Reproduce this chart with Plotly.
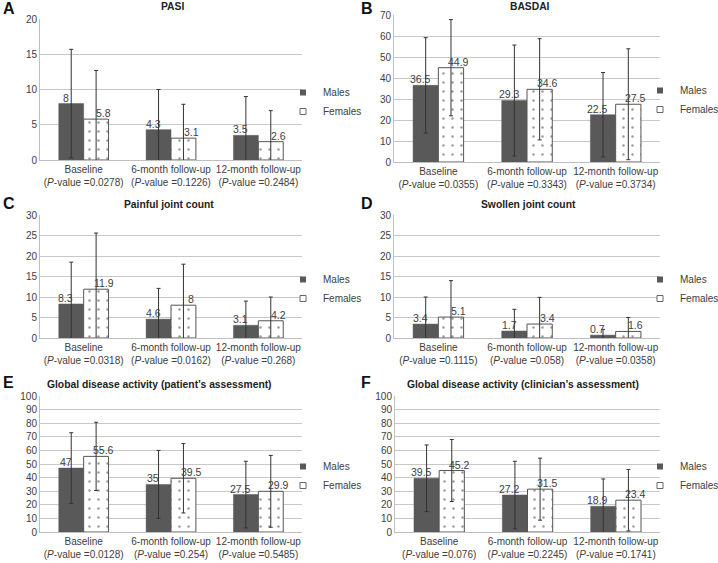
import plotly.graph_objects as go

W, H = 718, 563

categories = ["Baseline", "6-month follow-up", "12-month follow-up"]

# Panel A - PASI
pasi_m = [8, 4.3, 3.5]
pasi_m_sd = [7.7, 5.7, 5.5]
pasi_f = [5.8, 3.1, 2.6]
pasi_f_sd = [6.9, 4.8, 4.4]
pasi_p = ["0.0278", "0.1226", "0.2484"]

# Panel B - BASDAI
basdai_m = [36.5, 29.3, 22.5]
basdai_m_sd = [22.7, 26.4, 20.1]
basdai_f = [44.9, 34.6, 27.5]
basdai_f_sd = [22.9, 24.1, 26.4]
basdai_p = ["0.0355", "0.3343", "0.3734"]

# Panel C - Painful joint count
pain_m = [8.3, 4.6, 3.1]
pain_m_sd = [10.2, 7.5, 5.9]
pain_f = [11.9, 8, 4.2]
pain_f_sd = [13.7, 10.0, 5.8]
pain_p = ["0.0318", "0.0162", "0.268"]

# Panel D - Swollen joint count
swol_m = [3.4, 1.7, 0.7]
swol_m_sd = [6.6, 5.3, 1.4]
swol_f = [5.1, 3.4, 1.6]
swol_f_sd = [8.9, 6.5, 3.4]
swol_p = ["0.1115", "0.058", "0.0358"]

# Panel E - Global disease activity (patient)
gpat_m = [47, 35, 27.5]
gpat_m_sd = [26.0, 25.0, 24.5]
gpat_f = [55.6, 39.5, 29.9]
gpat_f_sd = [25.1, 25.5, 26.4]
gpat_p = ["0.0128", "0.254", "0.5485"]

# Panel F - Global disease activity (clinician)
gcli_m = [39.5, 27.2, 18.9]
gcli_m_sd = [24.5, 24.8, 20.1]
gcli_f = [45.2, 31.5, 23.4]
gcli_f_sd = [22.8, 22.8, 22.6]
gcli_p = ["0.076", "0.2245", "0.1741"]

panel_letters = ["A", "B", "C", "D", "E", "F"]
panel_titles = ["PASI", "BASDAI", "Painful joint count", "Swollen joint count",
                "Global disease activity (patient\u2019s assessment)",
                "Global disease activity (clinician\u2019s assessment)"]
y_max = [20, 70, 30, 30, 100, 100]
y_dtick = [5, 10, 5, 5, 10, 10]

data = [
    (pasi_m, pasi_m_sd, pasi_f, pasi_f_sd, pasi_p),
    (basdai_m, basdai_m_sd, basdai_f, basdai_f_sd, basdai_p),
    (pain_m, pain_m_sd, pain_f, pain_f_sd, pain_p),
    (swol_m, swol_m_sd, swol_f, swol_f_sd, swol_p),
    (gpat_m, gpat_m_sd, gpat_f, gpat_f_sd, gpat_p),
    (gcli_m, gcli_m_sd, gcli_f, gcli_f_sd, gcli_p),
]

# layout geometry in pixels (x0, x1, ytop, ybottom), title center, letter, legend
geom = [
    dict(x=(40, 302), y=(19, 160), title=(172, 7), letter=(1, 8), legend=(283, 102)),
    dict(x=(394, 660), y=(15, 162), title=(530, 7), letter=(359, 8), legend=(640, 100)),
    dict(x=(40, 302), y=(215, 338), title=(169, 204), letter=(1, 203), legend=(283, 289)),
    dict(x=(394, 660), y=(215, 338), title=(528, 204), letter=(359, 203), legend=(640, 289)),
    dict(x=(40, 302), y=(396, 532), title=(159, 384), letter=(1, 382), legend=(283, 476)),
    dict(x=(395, 660), y=(396, 532), title=(523, 384), letter=(359, 382), legend=(640, 476)),
]

MALE = "#595959"
TXT = "#404040"
GRID = "#c8c8c8"
FONT = "Liberation Sans, Arial, sans-serif"

def px(v):
    return v / W

def py(v):
    return 1 - v / H

fig = go.Figure()
annotations = []
layout = {}

for i, (m, msd, f, fsd, pv) in enumerate(data):
    k = i + 1
    xa = "x" if k == 1 else f"x{k}"
    ya = "y" if k == 1 else f"y{k}"
    lg = "legend" if k == 1 else f"legend{k}"
    g = geom[i]

    fig.add_trace(go.Bar(
        x=categories, y=m, name="Males", xaxis=xa, yaxis=ya,
        marker=dict(color=MALE, line=dict(color=MALE, width=0.5)),
        error_y=dict(type="data", array=msd, visible=True, color="#333333",
                     thickness=1, width=2),
        showlegend=False, legend=lg,
    ))
    fig.add_trace(go.Bar(
        x=categories, y=f, name="Females", xaxis=xa, yaxis=ya,
        marker=dict(color="white", line=dict(color="#555555", width=1),
                    pattern=dict(shape=".", fgcolor="#333333", bgcolor="white",
                                 size=9, solidity=0.06)),
        error_y=dict(type="data", array=fsd, visible=True, color="#333333",
                     thickness=1, width=2),
        showlegend=False, legend=lg,
    ))
    # legend entries
    fig.add_trace(go.Scatter(
        x=[None], y=[None], mode="markers", name="Males", xaxis=xa, yaxis=ya,
        marker=dict(symbol="square", size=6, color=MALE),
        legend=lg, showlegend=True,
    ))
    fig.add_trace(go.Scatter(
        x=[None], y=[None], mode="markers", name="Females", xaxis=xa, yaxis=ya,
        marker=dict(symbol="square", size=6, color="white",
                    line=dict(color="#666666", width=1)),
        legend=lg, showlegend=True,
    ))

    ticktext = [f"{c}<br>(<i>P</i>-value ={p})" for c, p in zip(categories, pv)]
    layout["xaxis" if k == 1 else f"xaxis{k}"] = dict(
        domain=[px(g["x"][0]), px(g["x"][1])], anchor=ya,
        type="category", tickvals=categories, ticktext=ticktext, tickangle=0,
        showline=True, linecolor="#bfbfbf", linewidth=1,
        showgrid=False, ticks="", tickfont=dict(size=10, color=TXT, family=FONT),
        fixedrange=True,
    )
    layout["yaxis" if k == 1 else f"yaxis{k}"] = dict(
        domain=[py(g["y"][1]), py(g["y"][0])], anchor=xa,
        range=[0, y_max[i]], dtick=y_dtick[i], tick0=0,
        showline=True, linecolor="#bfbfbf", linewidth=1,
        showgrid=True, gridcolor=GRID, gridwidth=1, zeroline=False,
        ticks="", tickfont=dict(size=10, color=TXT, family=FONT),
        fixedrange=True,
    )
    layout[lg] = dict(
        x=px(g["legend"][0]), y=py(g["legend"][1]), xanchor="left", yanchor="middle",
        xref="paper", yref="paper", bgcolor="rgba(0,0,0,0)",
        font=dict(size=10, color=TXT, family=FONT), itemclick=False,
        itemdoubleclick=False,
    )

    # value labels
    for c, v in zip(categories, m):
        annotations.append(dict(
            x=c, y=v, xref=xa, yref=ya, text=f"{v:g}", showarrow=False,
            xanchor="center", yanchor="bottom", xshift=-18, yshift=-2,
            font=dict(size=10.5, color=TXT, family=FONT),
        ))
    for c, v in zip(categories, f):
        annotations.append(dict(
            x=c, y=v, xref=xa, yref=ya, text=f"{v:g}", showarrow=False,
            xanchor="center", yanchor="bottom", xshift=20, yshift=-2,
            font=dict(size=10.5, color=TXT, family=FONT),
        ))

    # panel title
    annotations.append(dict(
        x=px(g["title"][0]), y=py(g["title"][1]), xref="paper", yref="paper",
        text=f"<b>{panel_titles[i]}</b>", showarrow=False,
        xanchor="center", yanchor="middle",
        font=dict(size=10.3, color="#222222", family=FONT),
    ))
    # panel letter
    annotations.append(dict(
        x=px(g["letter"][0]), y=py(g["letter"][1]), xref="paper", yref="paper",
        text=f"<b>{panel_letters[i]}</b>", showarrow=False,
        xanchor="left", yanchor="middle",
        font=dict(size=16, color="#111111", family=FONT),
    ))

fig.update_layout(
    width=W, height=H,
    margin=dict(l=0, r=0, t=0, b=0, autoexpand=False),
    paper_bgcolor="white", plot_bgcolor="white",
    barmode="group", bargap=0.43, bargroupgap=0,
    font=dict(family=FONT, color=TXT),
    annotations=annotations,
    **layout,
)

fig.write_html(
    "out.html",
    config={"displayModeBar": False},
    post_script="document.body.style.margin='0';document.body.style.overflow='hidden';",
)
